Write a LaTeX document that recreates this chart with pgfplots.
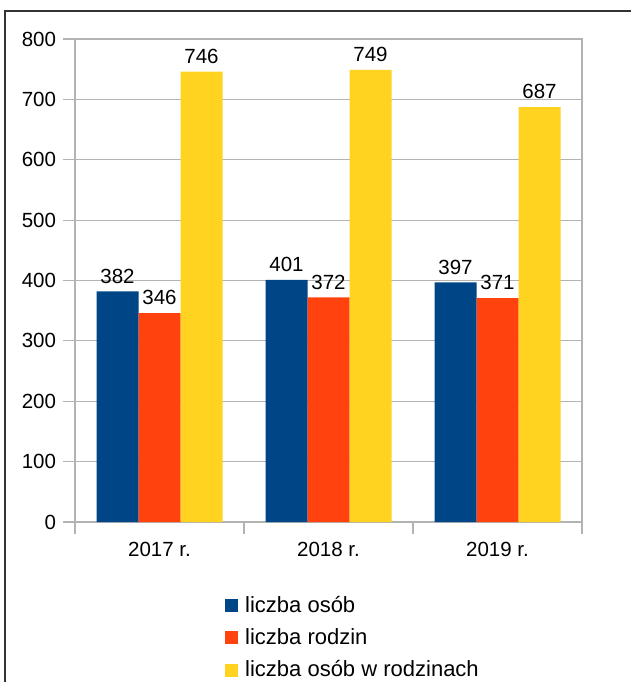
\documentclass[border=0pt]{standalone}
\usepackage{pgfplots}
\pgfplotsset{compat=1.18}
\usepackage{fontspec}
\setmainfont{Liberation Sans}
\definecolor{colOsob}{HTML}{004586}
\definecolor{colRodzin}{HTML}{FF420E}
\definecolor{colOsobRodz}{HTML}{FFD320}
\definecolor{colGrid}{HTML}{B3B3B3}
\newcommand{\chartfont}{\fontsize{20.5bp}{24bp}\selectfont}

\begin{document}
\chartfont
\begin{tikzpicture}
\path[use as bounding box] (0,0) rectangle (631bp,682bp);
\draw[line width=1.3bp, black!80] (5bp,0) -- (5bp,671bp) -- (631bp,671bp);
\begin{axis}[
    at={(75bp,160bp)},
    anchor=south west,
    scale only axis,
    width=507bp,
    height=483bp,
    ybar=0pt,
    bar width=42bp,
    xmin=-0.5, xmax=2.5,
    ymin=0, ymax=800,
    ytick={0,100,...,800},
    xtick={-0.5,0.5,1.5,2.5},
    xticklabels={},
    extra x ticks={0,1,2},
    extra x tick labels={2017 r., 2018 r., 2019 r.},
    extra x tick style={major tick length=0pt, grid=none},
    tick pos=left,
    tick align=outside,
    major tick length=12bp,
    axis line style={colGrid, line width=1.2bp},
    tick style={colGrid, line width=1.2bp},
    ymajorgrids,
    grid style={colGrid, line width=1.2bp},
    /pgf/number format/assume math mode=true,
    tick label style={font=\chartfont},
    xticklabel style={yshift=-13bp},
    nodes near coords,
    nodes near coords style={font=\chartfont, yshift=1bp},
    clip=false,
    legend cell align=left,
    legend style={
        at={(0.290,-0.145)},
        anchor=north west,
        draw=none, fill=none,
        font=\fontsize{22bp}{25bp}\selectfont,
        row sep=9bp,
        /tikz/every odd column/.append style={column sep=5bp},
    },
    legend image code/.code={\fill[#1] (0bp,-6.5bp) rectangle (13bp,6.5bp);},
]
% liczba osób
\addplot[fill=colOsob, draw=none] coordinates {(0,382) (1,401) (2,397)};
% liczba rodzin
\addplot[fill=colRodzin, draw=none] coordinates {(0,346) (1,372) (2,371)};
% liczba osób w rodzinach
\addplot[fill=colOsobRodz, draw=none] coordinates {(0,746) (1,749) (2,687)};
\legend{liczba osób, liczba rodzin, liczba osób w rodzinach}
\end{axis}
\end{tikzpicture}
\end{document}
